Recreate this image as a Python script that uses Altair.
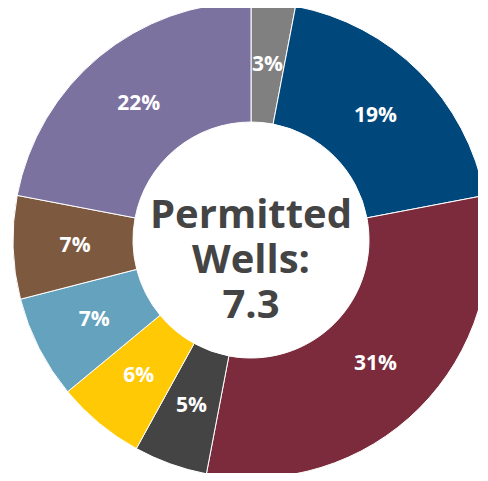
import altair as alt
import pandas as pd

categories = ["A", "B", "C", "D", "E", "F", "G", "H"]
shares = [3, 19, 31, 5, 6, 7, 7, 22]
colors = ["#808080", "#00477c", "#7b2b3b", "#444444", "#ffca05", "#64a2bd", "#7d5a3f", "#7c72a0"]
labels = [f"{v}%" for v in shares]
center_lines = ["Permitted", "Wells:", "7.3"]

df = pd.DataFrame({
    "cat": categories,
    "share": shares,
    "order": list(range(len(categories))),
    "label": labels,
})

CX, CY = 243, 232

base = alt.Chart(df).encode(
    theta=alt.Theta("share:Q", stack=True),
    order=alt.Order("order:Q"),
    x=alt.value(CX),
    y=alt.value(CY),
)

arcs = base.mark_arc(outerRadius=238, innerRadius=118, stroke="white", strokeWidth=1).encode(
    color=alt.Color("cat:N", scale=alt.Scale(domain=categories, range=colors), legend=None)
)

text = base.mark_text(radius=176, font="Open Sans", fontWeight="bold", fontSize=21, color="white").encode(
    text="label:N"
)

center_df = pd.DataFrame({"t": ["\n".join(center_lines)]})
center = alt.Chart(center_df).mark_text(
    font="Open Sans", fontWeight="bold", fontSize=40, color="#444444",
    lineBreak="\n", lineHeight=45, align="center", baseline="middle"
).encode(text="t:N", x=alt.value(CX), y=alt.value(CY - 24))

chart = alt.layer(arcs, text, center).properties(
    width=470, height=465, padding=0, autosize=alt.AutoSizeParams(type="none")
).configure_view(stroke=None)

chart.save("out.html", embed_options={"renderer": "svg", "actions": False})
